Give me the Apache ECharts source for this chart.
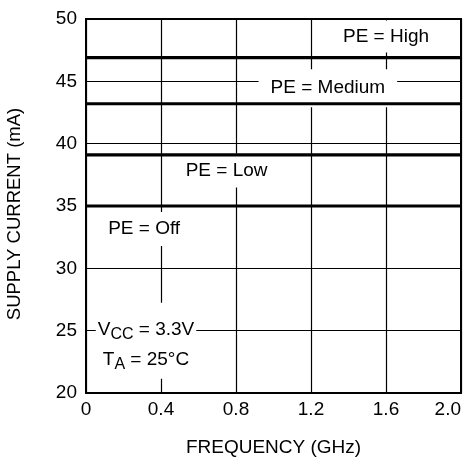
<!DOCTYPE html>
<html><head><meta charset="utf-8">
<script src="https://cdn.jsdelivr.net/npm/echarts@6/dist/echarts.min.js"></script>
<style>html,body{margin:0;padding:0;background:#fff;}#c{width:468px;height:461px;}</style>
</head><body><div id="c"></div>
<script>
// Data
const peLevels = ['PE = High', 'PE = Medium', 'PE = Low', 'PE = Off'];
const peCurrent = [46.9, 43.2, 39.1, 35.0];
const freqRange = [0, 2.0];
const xTicks = ['0', '0.4', '0.8', '1.2', '1.6', '2.0'];
// annotation anchors in data units [GHz, mA]
const noteX = [1.6, 1.29, 0.75, 0.31, 0.32];
const noteY = [48.6, 44.45, 37.85, 33.15, 24.2];

const FONT = 'Liberation Sans, Arial, Helvetica, sans-serif';
const FS = 19;
const chart = echarts.init(document.getElementById('c'), null, {renderer: 'canvas'});

const lineSeries = peLevels.map((name, i) => ({
  name: name,
  type: 'line',
  data: [[freqRange[0], peCurrent[i]], [freqRange[1], peCurrent[i]]],
  symbol: 'none',
  lineStyle: {color: '#000', width: 3.2},
  z: 6,
  silent: true
}));

const noteTexts = [
  '{n|PE = High}',
  '{n|PE = Medium}',
  '{n|PE = Low}',
  '{n|PE = Off}',
  '{n|V}{s|CC}{n| = 3.3V}\n{n|T}{s|A}{n| = 25°C}'
];
const notePad = [[1, 2], [4, 12], [2, 2], [2, 2], [12, 2, 4, 2]];

const noteSeries = {
  type: 'scatter',
  symbolSize: 0,
  z: 4,
  silent: true,
  itemStyle: {opacity: 1},
  data: noteTexts.map((t, i) => ({
    value: [noteX[i], noteY[i]],
    label: {
      show: true,
      position: 'inside',
      formatter: t,
      backgroundColor: '#fff',
      opacity: 1,
      padding: notePad[i],
      lineHeight: 30,
      rich: {
        n: {fontFamily: FONT, fontSize: FS, color: '#000', lineHeight: 30},
        s: {fontFamily: FONT, fontSize: 16, color: '#000', lineHeight: 30, padding: [10, 0, 0, 0]}
      }
    }
  }))
};

chart.setOption({
  animation: false,
  backgroundColor: '#fff',
  grid: {left: 86, right: 7, top: 19, bottom: 68, containLabel: false, outerBoundsMode: 'none',
    show: true, borderColor: '#000', borderWidth: 2, backgroundColor: 'transparent'},
  xAxis: {
    type: 'value', min: 0, max: 2.0, interval: 0.4,
    name: 'FREQUENCY (GHz)', nameLocation: 'middle', nameGap: 45,
    nameTextStyle: {fontFamily: FONT, fontSize: FS, color: '#000'},
    axisLine: {show: true, lineStyle: {color: '#000', width: 2}},
    axisTick: {show: false},
    splitLine: {show: true, lineStyle: {color: '#000', width: 1.2}},
    axisLabel: {fontFamily: FONT, fontSize: FS, color: '#000', margin: 7, alignMaxLabel: 'right',
      formatter: (v) => xTicks[Math.round(v / 0.4)]}
  },
  yAxis: {
    type: 'value', min: 20, max: 50, interval: 5,
    name: 'SUPPLY CURRENT (mA)', nameLocation: 'middle', nameGap: 62, nameRotate: 90,
    nameTextStyle: {fontFamily: FONT, fontSize: 18.5, color: '#000', padding: [0, 16, 0, 0]},
    axisLine: {show: true, lineStyle: {color: '#000', width: 2}},
    axisTick: {show: false},
    splitLine: {show: true, lineStyle: {color: '#000', width: 1.2}},
    axisLabel: {fontFamily: FONT, fontSize: FS, color: '#000', margin: 9}
  },
  series: lineSeries.concat([noteSeries])
});
</script></body></html>
